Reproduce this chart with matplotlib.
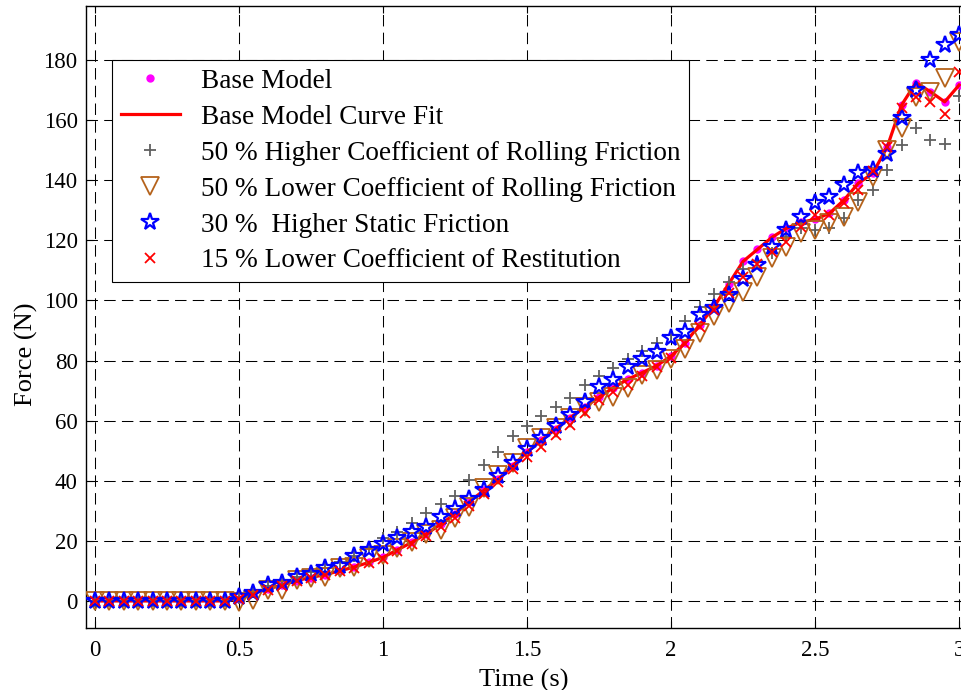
import numpy as np
import matplotlib
matplotlib.use("Agg")
import matplotlib.pyplot as plt

plt.rcParams['font.family'] = ['Liberation Serif', 'DejaVu Serif']

# time samples (s)
time = [0.00, 0.05, 0.10, 0.15, 0.20, 0.25, 0.30, 0.35, 0.40, 0.45,
        0.50, 0.55, 0.60, 0.65, 0.70, 0.75, 0.80, 0.85, 0.90, 0.95,
        1.00, 1.05, 1.10, 1.15, 1.20, 1.25, 1.30, 1.35, 1.40, 1.45,
        1.50, 1.55, 1.60, 1.65, 1.70, 1.75, 1.80, 1.85, 1.90, 1.95,
        2.00, 2.05, 2.10, 2.15, 2.20, 2.25, 2.30, 2.35, 2.40, 2.45,
        2.50, 2.55, 2.60, 2.65, 2.70, 2.75, 2.80, 2.85, 2.90, 2.95,
        3.00]

# force readings (N)
base_model = [0, 0, 0, 0, 0, 0, 0, 0, 0, 0,
              0.8, 2.5, 4.0, 5.3, 6.8, 7.8, 8.8, 10.0, 11.3, 12.8,
              14.5, 17.0, 19.5, 22.3, 25.5, 29.0, 33.0, 36.8, 40.5, 45.0,
              49.5, 53.5, 57.3, 61.0, 64.5, 67.8, 71.0, 73.8, 76.0, 78.3,
              81.5, 86.0, 92.0, 98.0, 105.5, 113.0, 117.0, 121.0, 124.0, 126.0,
              127.0, 129.0, 133.4, 139.0, 142.3, 151.0, 165.0, 172.5, 169.5, 166.1,
              171.7]

higher_rolling = [0, 0, 0, 0, 0, 0, 0, 0, 0, 0,
                  1.0, 3.0, 5.0, 6.5, 8.0, 9.5, 11.0, 13.0, 15.0, 17.5,
                  20.8, 23.0, 25.8, 29.2, 32.3, 34.9, 40.3, 45.2, 49.7, 54.9,
                  58.2, 61.6, 64.7, 67.4, 71.9, 74.9, 77.4, 80.5, 83.3, 85.9,
                  88.5, 93.3, 97.8, 102.3, 106.2, 110.4, 113.0, 115.7, 121.0, 124.0,
                  123.5, 124.0, 127.3, 133.4, 136.6, 143.4, 151.8, 157.5, 153.5, 152.0,
                  168.0]

lower_rolling = [0, 0, 0, 0, 0, 0, 0, 0, 0, 0,
                 -0.5, 0.3, 3.7, 3.7, 7.0, 7.5, 8.1, 10.9, 11.4, 14.2,
                 15.3, 17.5, 19.5, 22.3, 23.6, 27.5, 31.4, 37.5, 41.9, 45.8,
                 50.8, 54.1, 57.4, 60.8, 64.7, 66.3, 68.0, 70.8, 75.2, 76.9,
                 80.5, 84.0, 89.3, 94.8, 99.0, 102.9, 107.9, 114.0, 117.9, 122.3,
                 123.4, 125.7, 127.9, 132.9, 141.2, 150.0, 157.3, 167.8, 169.5, 173.9,
                 186.1]

higher_static = [0, 0, 0, 0, 0, 0, 0, 0, 0, 0,
                 1.4, 2.5, 5.3, 5.9, 8.1, 9.0, 10.9, 11.6, 15.0, 17.0,
                 19.0, 20.8, 22.8, 24.7, 28.0, 30.5, 33.8, 36.9, 41.6, 45.8,
                 50.5, 54.1, 58.2, 61.9, 66.3, 71.1, 73.5, 78.0, 80.4, 83.0,
                 87.4, 89.6, 95.2, 97.4, 101.8, 107.0, 111.8, 117.9, 123.4, 127.9,
                 132.5, 134.3, 138.4, 142.5, 143.4, 148.9, 160.6, 170.2, 180.0, 185.0,
                 188.3]

lower_restitution = [0, 0, 0, 0, 0, 0, 0, 0, 0, 0,
                     0.5, 2.0, 3.5, 5.0, 6.5, 7.5, 8.5, 10.0, 11.0, 12.5,
                     14.0, 16.5, 19.0, 21.5, 24.5, 27.5, 31.5, 35.5, 39.5, 44.0,
                     48.0, 51.3, 55.2, 58.5, 62.4, 66.9, 69.5, 71.9, 75.0, 78.0,
                     81.0, 85.5, 91.3, 96.8, 102.4, 107.9, 112.0, 116.2, 119.6, 124.5,
                     128.4, 128.4, 132.3, 136.7, 143.0, 151.0, 163.9, 167.8, 166.1, 162.0,
                     176.1]

xticks = [0, 0.5, 1, 1.5, 2, 2.5, 3]
xtick_labels = ['0', '0.5', '1', '1.5', '2', '2.5', '3']
yticks = [0, 20, 40, 60, 80, 100, 120, 140, 160, 180]

fig = plt.figure(figsize=(9.62, 6.90), dpi=100)
ax = fig.add_axes([86 / 962, 62 / 690, 876 / 962, 622 / 690])

ax.plot(time, base_model, linestyle='none', marker='o', ms=5, color='#ff00ff',
        label='Base Model', zorder=3)
ax.plot(time, base_model, '-', color='#ff0000', lw=2.3,
        label='Base Model Curve Fit', zorder=4)
ax.plot(time, higher_rolling, linestyle='none', marker='+', ms=9, mew=1.3,
        color='#606060', label='50 % Higher Coefficient of Rolling Friction', zorder=5)
ax.plot(time, lower_rolling, linestyle='none', marker='v', ms=13, mew=1.3,
        mfc='none', mec='#b5621a', label='50 % Lower Coefficient of Rolling Friction', zorder=6)
ax.plot(time, higher_static, linestyle='none', marker='*', ms=13, mew=1.6,
        mfc='none', mec='#0000ff', label='30 %  Higher Static Friction', zorder=7)
ax.plot(time, lower_restitution, linestyle='none', marker='x', ms=7, mew=1.3,
        color='#ff0000', label='15 % Lower Coefficient of Restitution', zorder=8)

ax.set_xlim(-0.031, 3.01)
ax.set_ylim(-9, 198)
ax.set_xticks(xticks)
ax.set_xticklabels(xtick_labels)
ax.set_yticks(yticks)
ax.tick_params(direction='in', length=5, width=0.8, labelsize=16.5,
               top=True, right=True, pad=6)
ax.tick_params(axis='x', pad=9)
ax.grid(True, color='black', linestyle=(0, (11, 6)), linewidth=0.75)
ax.set_axisbelow(True)
for s in ax.spines.values():
    s.set_linewidth(1.0)

ax.set_xlabel('Time (s)', fontsize=19, labelpad=5)
ax.set_ylabel('Force (N)', fontsize=19, labelpad=4, y=0.44)

leg = ax.legend(loc='upper left', bbox_to_anchor=((112 - 86) / 876, (628 - 60) / 622),
                borderaxespad=0, fontsize=19.6, numpoints=1, handlelength=2.17,
                handletextpad=0.77, labelspacing=0.4, borderpad=0.32,
                fancybox=False, framealpha=1, edgecolor='black')
leg.get_frame().set_linewidth(0.8)

fig.savefig('out.png', dpi=100)
